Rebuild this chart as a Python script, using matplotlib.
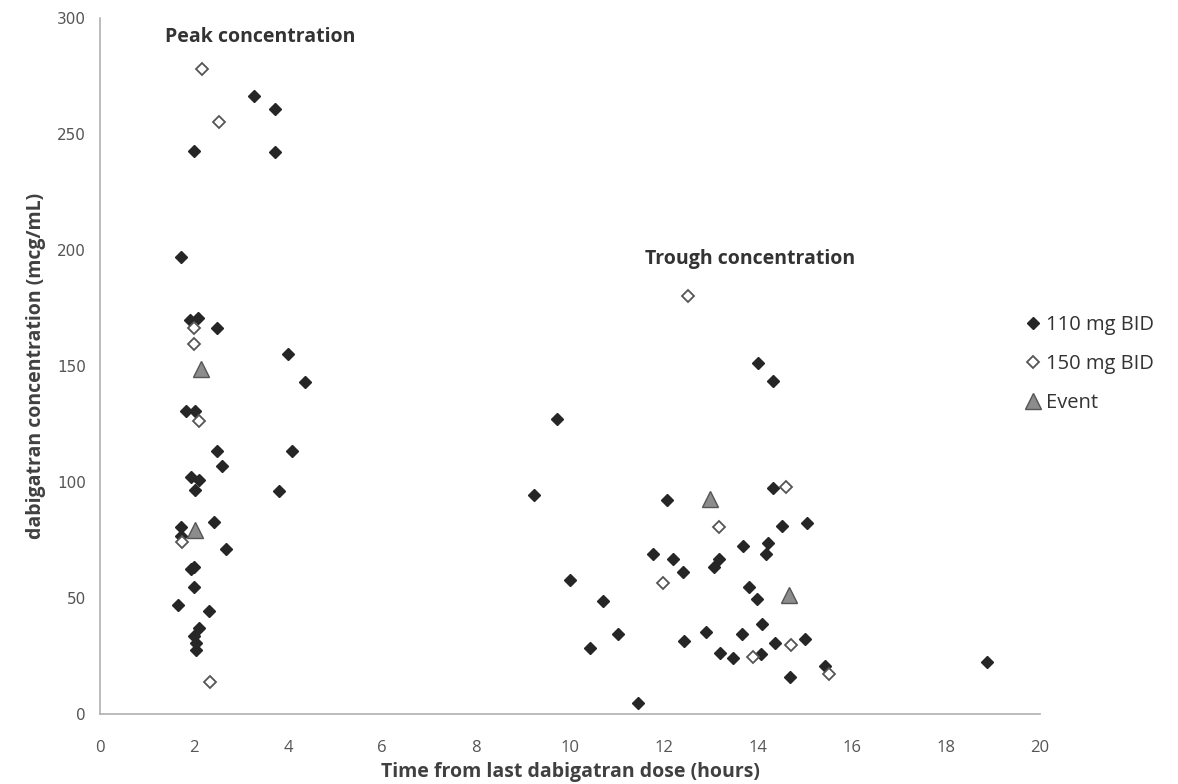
import matplotlib.pyplot as plt

# 110 mg BID (filled diamonds)
x_110 = [3.28, 3.72, 2.0, 3.72, 1.72, 1.91, 2.09, 2.49, 4.0, 4.36,
         1.83, 2.02, 4.09, 2.49, 2.6, 1.94, 2.1, 2.02, 3.81,
         1.72, 1.72, 2.43, 2.68, 1.93, 2.0, 2.0, 1.66, 2.32, 2.1, 2.0, 2.04, 2.04,
         14.0, 14.32, 9.72, 9.23, 12.06, 14.32, 14.51, 15.04,
         11.77, 12.19, 13.68, 14.21, 14.17, 13.17, 13.06, 12.4, 10.0, 13.81,
         13.98, 10.7, 14.09, 11.02, 12.89, 13.66, 14.36, 15.0, 12.43, 10.43,
         13.19, 13.47, 14.06, 15.43, 14.68, 11.45, 18.87]
y_110 = [266.4, 261, 242.7, 242.2, 197, 170, 170.7, 166.4, 155, 143,
         130.6, 130.6, 113.4, 113.4, 107, 102, 101, 96.5, 96,
         80.6, 76.7, 82.8, 71, 62.5, 63.5, 54.7, 47, 44.4, 37, 33.6, 30.6, 27.6,
         151.3, 143.5, 127, 94.4, 92.2, 97.4, 81, 82.3,
         69, 66.8, 72.4, 73.7, 69, 66.8, 63.4, 61.2, 57.8, 54.7,
         49.6, 48.7, 38.8, 34.5, 35.3, 34.5, 30.6, 32.3, 31.5, 28.4,
         26.3, 24.1, 25.9, 20.7, 15.9, 4.7, 22.4]

# 150 mg BID (open diamonds)
x_150 = [2.17, 2.53, 2.0, 2.0, 2.1, 1.74, 2.34,
         12.51, 14.6, 13.17, 11.98, 14.7, 13.89, 15.51]
y_150 = [278, 255, 166.4, 159.5, 126.3, 74, 13.8,
         180.2, 97.8, 80.6, 56.5, 29.7, 24.6, 17.2]

# events (triangles)
x_ev = [2.15, 2.02, 12.98, 14.66]
y_ev = [148.5, 79.5, 92.5, 51.5]

fig = plt.figure(figsize=(11.78, 7.84), dpi=100)
ax = fig.add_axes([0.0849, 0.0893, 0.798, 0.8877])

ax.plot(x_110, y_110, 'D', color='#262626', ms=6.5, ls='none', label='110 mg BID')
ax.plot(x_150, y_150, 'D', mfc='white', mec='#555555', mew=1.3, ms=6.5, ls='none',
        label='150 mg BID')
ax.plot(x_ev, y_ev, '^', mfc='#8c8c8c', mec='#555555', mew=1, ms=11, ls='none',
        label='Event')

ax.set_xlim(0, 20)
ax.set_ylim(0, 300)
ax.set_xticks(range(0, 21, 2))
ax.set_yticks(range(0, 301, 50))

for s in ['top', 'right']:
    ax.spines[s].set_visible(False)
for s in ['left', 'bottom']:
    ax.spines[s].set_color('#b0b0b0')
    ax.spines[s].set_linewidth(1.2)
ax.tick_params(length=0, colors='#555555', labelsize=12)
ax.tick_params(axis='x', pad=19)
ax.tick_params(axis='y', pad=10)
for t in ax.get_yticklabels():
    t.set_fontfamily('DejaVu Sans')
    t.set_fontsize(11)
for t in ax.get_xticklabels():
    t.set_fontfamily('Open Sans')
    t.set_fontsize(12)

ax.set_xlabel('Time from last dabigatran dose (hours)', fontsize=14, fontweight='bold',
              color='#404040', family='Open Sans', labelpad=4)
ax.set_ylabel('dabigatran concentration (mcg/mL)', fontsize=14, fontweight='bold',
              color='#404040', family='Open Sans', labelpad=8)

ax.text(3.41, 292, 'Peak concentration', fontsize=14, fontweight='bold',
        color='#333333', family='Open Sans', ha='center', va='center')
ax.text(13.84, 196, 'Trough concentration', fontsize=14, fontweight='bold',
        color='#333333', family='Open Sans', ha='center', va='center')

leg = fig.legend(loc='center left', bbox_to_anchor=(0.851, 0.536), frameon=False,
                 handletextpad=0.05, labelspacing=0.95, handlelength=1.2,
                 prop={'family': 'Open Sans', 'size': 14.5})
for t in leg.get_texts():
    t.set_color('#333333')

fig.savefig('out.png', dpi=100)
